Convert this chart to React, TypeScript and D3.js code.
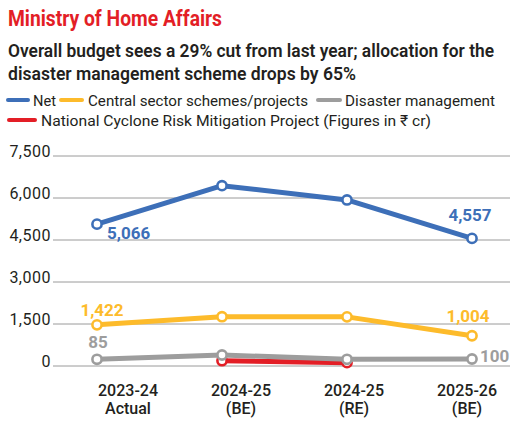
import React from "react";
import * as d3 from "d3";

const categories = ["2023-24 Actual", "2024-25 (BE)", "2024-25 (RE)", "2025-26 (BE)"];
const catLine1 = ["2023-24", "2024-25", "2024-25", "2025-26"];
const catLine2 = ["Actual", "(BE)", "(RE)", "(BE)"];
const netValues = [5066, 6440, 5930, 4557];
const centralValues = [1470, 1760, 1755, 1080];
const disasterValues = [240, 393, 240, 250];
const cycloneValues: (number | null)[] = [null, 189, 118, null];
const yTicks = [0, 1500, 3000, 4500, 6000, 7500];
const netLabels = ["5,066", "4,557"];
const centralLabels = ["1,422", "1,004"];
const disasterLabels = ["85", "100"];

const W = 522;
const H = 432;
const C = {
  net: "#3d6fb8",
  central: "#fdbb2b",
  disaster: "#9d9d9d",
  cyclone: "#e31e26",
  red: "#e31e26",
  text: "#231f20",
  grid: "#9a9a9a",
};
const FONT = "Roboto, 'Noto Sans', sans-serif";

export default function App() {
  const x = d3.scalePoint<string>().domain(categories).range([97, 472]);
  const xl = d3.scalePoint<string>().domain(categories).range([128, 467]);
  const y = d3.scaleLinear().domain([0, 7500]).range([366, 156]);

  const line = d3
    .line<number | null>()
    .defined((d) => d != null)
    .x((_, i) => x(categories[i]) as number)
    .y((d) => y(d as number));

  const series = [
    { key: "cyclone", vals: cycloneValues, color: C.cyclone },
    { key: "disaster", vals: disasterValues, color: C.disaster },
    { key: "central", vals: centralValues, color: C.central },
    { key: "net", vals: netValues, color: C.net },
  ];

  const px = (i: number) => x(categories[i]) as number;

  const legend1 = [
    { color: C.net, x1: 8, x2: 28, label: "Net", tx: 33, tw: 23 },
    { color: C.central, x1: 61, x2: 82, label: "Central sector schemes/projects", tx: 88, tw: 220 },
    { color: C.disaster, x1: 318, x2: 340, label: "Disaster management", tx: 345, tw: 150 },
  ];

  return (
    <svg
      width={W}
      height={H}
      style={{ position: "absolute", left: 0, top: 0, background: "#fff" }}
      fontFamily={FONT}
    >
      <rect width={W} height={H} fill="#fff" />
      <text x={8} y={26} fill={C.red} fontSize={22} fontWeight={700} textLength={214} lengthAdjust="spacingAndGlyphs">
        Ministry of Home Affairs
      </text>
      <text x={8} y={57} fill={C.text} fontSize={18} fontWeight={600} textLength={486} lengthAdjust="spacingAndGlyphs">
        Overall budget sees a 29% cut from last year; allocation for the
      </text>
      <text x={8} y={80} fill={C.text} fontSize={18} fontWeight={600} textLength={348} lengthAdjust="spacingAndGlyphs">
        disaster management scheme drops by 65%
      </text>

      {legend1.map((l) => (
        <g key={l.label}>
          <line x1={l.x1} x2={l.x2} y1={100} y2={100} stroke={l.color} strokeWidth={4} strokeLinecap="round" />
          <text x={l.tx} y={106} fontSize={15.5} fill={C.text} textLength={l.tw} lengthAdjust="spacingAndGlyphs">
            {l.label}
          </text>
        </g>
      ))}
      <line x1={9} x2={35} y1={120} y2={120} stroke={C.cyclone} strokeWidth={4} strokeLinecap="round" />
      <text x={41} y={126} fontSize={15.5} fill={C.text} textLength={390} lengthAdjust="spacingAndGlyphs">
        National Cyclone Risk Mitigation Project (Figures in ₹ cr)
      </text>

      {yTicks.map((t) => (
        <g key={t}>
          <line x1={53} x2={510} y1={y(t)} y2={y(t)} stroke={C.grid} strokeWidth={1} />
          <text x={51} y={y(t) + 0.5} textAnchor="end" fontSize={16} letterSpacing={0.5} fill={C.text}>
            {d3.format(",")(t)}
          </text>
        </g>
      ))}

      {categories.map((c, i) => (
        <text key={c} x={xl(c)} textAnchor="middle" fontSize={16} fontWeight={500} fill={C.text}>
          <tspan x={xl(c)} y={396}>{catLine1[i]}</tspan>
          <tspan x={xl(c)} y={414}>{catLine2[i]}</tspan>
        </text>
      ))}

      {series.map((s) => (
        <g key={s.key}>
          <path d={line(s.vals) || ""} fill="none" stroke={s.color} strokeWidth={5} strokeLinejoin="round" />
          {s.vals.map((v, i) =>
            v == null ? null : (
              <circle key={i} cx={px(i)} cy={y(v)} r={4.6} fill="#fff" stroke={s.color} strokeWidth={2.6} />
            )
          )}
        </g>
      ))}

      <g fontSize={17} fontWeight={700}>
        <text x={px(0) + 10} y={y(netValues[0]) + 15} fill={C.net}>{netLabels[0]}</text>
        <text x={px(3) - 2} y={y(netValues[3]) - 17} textAnchor="middle" fill={C.net}>{netLabels[1]}</text>
        <text x={px(0) + 5} y={y(centralValues[0]) - 9} textAnchor="middle" fill={C.central}>{centralLabels[0]}</text>
        <text x={px(3) - 4} y={y(centralValues[3]) - 14} textAnchor="middle" fill={C.central}>{centralLabels[1]}</text>
        <text x={px(0) + 1} y={y(disasterValues[0]) - 11} textAnchor="middle" fill={C.disaster}>{disasterLabels[0]}</text>
        <text x={px(3) + 8} y={y(disasterValues[3]) + 3} fill={C.disaster}>{disasterLabels[1]}</text>
      </g>
    </svg>
  );
}
